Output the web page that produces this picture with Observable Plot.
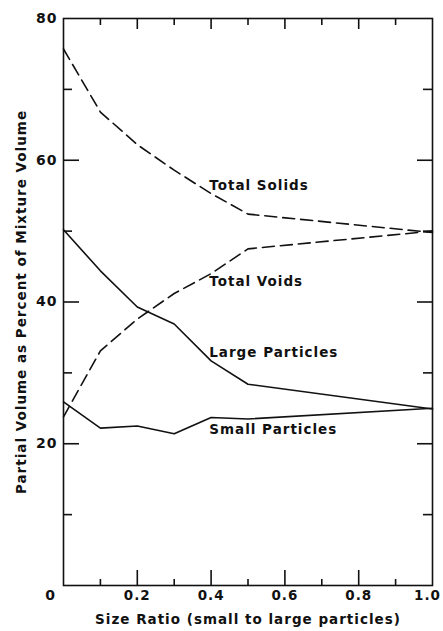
<!DOCTYPE html>
<html><head><meta charset="utf-8">
<script src="https://cdn.jsdelivr.net/npm/d3@7"></script>
<script src="https://cdn.jsdelivr.net/npm/@observablehq/plot@0.6"></script>
<style>
body{margin:0;background:#fff}
svg{display:block}
svg text{letter-spacing:1px}
</style>
</head><body><div id="chart"></div>
<script>
const sizeRatio = [0, 0.1, 0.2, 0.3, 0.4, 0.5, 1.0];
const totalSolids = [75.7, 66.8, 62.2, 58.6, 55.3, 52.4, 49.8];
const totalVoids = [23.8, 33.1, 37.6, 41.2, 44.0, 47.5, 50.0];
const largeParticles = [50.2, 44.4, 39.3, 36.9, 31.7, 28.4, 24.9];
const smallParticles = [25.9, 22.2, 22.5, 21.4, 23.7, 23.5, 25.0];

const seriesNames = ["Total Solids", "Total Voids", "Large Particles", "Small Particles"];
const seriesDashed = [true, true, false, false];
const labelX = [0.395, 0.395, 0.395, 0.395];
const labelY = [56.4, 42.8, 32.8, 22.0];

const xTickLabels = [0.2, 0.4, 0.6, 0.8];
const xEndLabel = [1.0];
const xMajorTicks = [0.2, 0.4, 0.6, 0.8];
const xMinorTicks = [0.1, 0.3, 0.5, 0.7, 0.9];
const yTickLabels = [20, 40, 60, 80];
const yMajorTicks = [20, 40, 60];
const yMinorTicks = [10, 30, 50, 70];

const seriesValues = [totalSolids, totalVoids, largeParticles, smallParticles];
const rows = seriesNames.flatMap((name, i) =>
  sizeRatio.map((x, j) => ({series: name, x, y: seriesValues[i][j], dashed: seriesDashed[i]})));
const labels = seriesNames.map((name, i) => ({name, x: labelX[i], y: labelY[i]}));

const W = 443, H = 631, mL = 63, mR = 11, mT = 18, mB = 46;
const iW = W - mL - mR, iH = H - mT - mB;
const font = "DejaVu Sans";

const chart = Plot.plot({
  width: W, height: H,
  marginLeft: mL, marginRight: mR, marginTop: mT, marginBottom: mB,
  x: {domain: [0, 1], axis: null},
  y: {domain: [0, 80], axis: null},
  style: {fontFamily: font, fontWeight: "bold", color: "#111", background: "#fff"},
  marks: [
    Plot.frame({stroke: "#111", strokeWidth: 1.6}),
    // bottom ticks (inward)
    Plot.tickX(xMajorTicks, {x: d => d, insetTop: iH - 15, stroke: "#111", strokeWidth: 1.6}),
    Plot.tickX(xMinorTicks, {x: d => d, insetTop: iH - 6, stroke: "#111", strokeWidth: 1.6}),
    // top ticks
    Plot.tickX(xMajorTicks, {x: d => d, insetBottom: iH - 11, stroke: "#111", strokeWidth: 1.6}),
    Plot.tickX(xMinorTicks, {x: d => d, insetBottom: iH - 7, stroke: "#111", strokeWidth: 1.6}),
    // left ticks
    Plot.tickY(yMajorTicks, {y: d => d, insetRight: iW - 16, stroke: "#111", strokeWidth: 1.6}),
    Plot.tickY(yMinorTicks, {y: d => d, insetRight: iW - 9, stroke: "#111", strokeWidth: 1.6}),
    // right ticks
    Plot.tickY(yMajorTicks, {y: d => d, insetLeft: iW - 15, stroke: "#111", strokeWidth: 1.6}),
    Plot.tickY(yMinorTicks, {y: d => d, insetLeft: iW - 9, stroke: "#111", strokeWidth: 1.6}),
    // lines
    Plot.line(rows.filter(d => d.dashed), {x: "x", y: "y", z: "series", stroke: "#111", strokeWidth: 1.6, strokeDasharray: "12,6"}),
    Plot.line(rows.filter(d => !d.dashed), {x: "x", y: "y", z: "series", stroke: "#111", strokeWidth: 1.6}),
    // series labels
    Plot.text(labels, {x: "x", y: "y", text: "name", textAnchor: "start", fontSize: 13.5, fill: "#111"}),
    // tick labels
    Plot.text(yTickLabels, {y: d => d, frameAnchor: "left", dx: -6, textAnchor: "end", text: d => String(d), fontSize: 14, fill: "#111"}),
    Plot.text(xTickLabels, {x: d => d, frameAnchor: "bottom", dy: 14, text: d => d.toFixed(1), fontSize: 13.5, fill: "#111"}),
    Plot.text(xEndLabel, {x: d => d, frameAnchor: "bottom", dx: -5, dy: 14, text: d => d.toFixed(1), fontSize: 13.5, fill: "#111"}),
    Plot.text([0], {x: d => d, frameAnchor: "bottom", dx: -13, dy: 14, text: d => String(d), fontSize: 14, fill: "#111"}),
    // axis titles
    Plot.text(["Partial Volume as Percent of Mixture Volume"], {frameAnchor: "left", textAnchor: "middle", dx: -42, rotate: -90, text: d => d, fontSize: 13.5, fill: "#111"}),
    Plot.text(["Size Ratio (small to large particles)"], {frameAnchor: "bottom", textAnchor: "middle", dy: 38, text: d => d, fontSize: 13.5, fill: "#111"})
  ]
});
document.getElementById("chart").appendChild(chart);
</script>
</body></html>
